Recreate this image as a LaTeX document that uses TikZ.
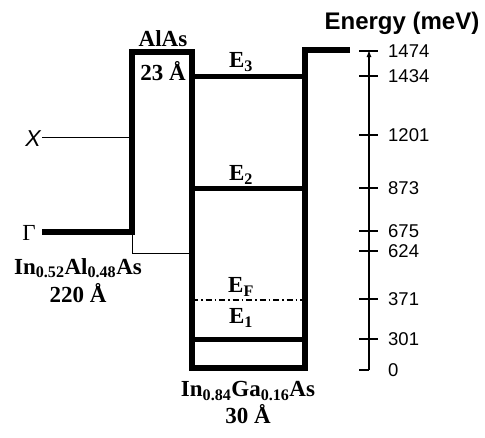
\documentclass[tikz,border=0pt]{standalone}
\usepackage{fontspec}
\setmainfont{Liberation Serif}
\setsansfont{Liberation Sans}
\usetikzlibrary{arrows.meta}
\newcommand{\lbl}{\fontsize{23}{25}\selectfont\bfseries}
\newcommand{\axnum}{\fontsize{18.5}{21}\selectfont\sffamily}

\begin{document}
\begin{tikzpicture}[
      x = 1pt, y = -1pt,
      band/.style={line width = 5.5pt, line join = miter, line cap = butt},
      level/.style={line width = 5pt},
      thin edge/.style={line width = 0.9pt},
      fermi/.style={line width = 1.1pt, dash pattern = on 6pt off 3pt on 1.5pt off 3pt},
      axis/.style={line width = 1.2pt, -{Latex[length = 7pt, width = 5pt]}},
      tick/.style={line width = 1.1pt},
      mat/.style={align = center, inner sep = 0pt, font = \lbl},
    ]
    \useasboundingbox (0, 0) rectangle (485, 437);

    % band edges: Gamma valley, AlAs barrier, InGaAs well
    \coordinate (gam) at (42, 232);
    \coordinate (bl) at (132, 232);
    \coordinate (btl) at (132, 52);
    \coordinate (btr) at (192, 52);
    \coordinate (wbl) at (192, 368);
    \coordinate (wbr) at (305, 368);
    \coordinate (wtr) at (305, 50);
    \coordinate (vac) at (350, 50);
    \draw[band] (gam) -- (bl) -- (btl) -- (btr) -- (wbl) -- (wbr) -- (wtr) -- (vac);

    % X valley and barrier step
    \coordinate (xv) at (42, 137);
    \coordinate (xb) at (132, 137);
    \coordinate (st) at (132, 253);
    \coordinate (sw) at (192, 253);
    \draw[thin edge] (xv) -- (xb);
    \draw[thin edge] (bl) -- (st) -- (sw);

    % subband levels
    \draw[level] (192, 76) -- (305, 76);
    \draw[level] (192, 188) -- (305, 188);
    \draw[level] (192, 339) -- (305, 339);
    \draw[fermi] (192, 300) -- (305, 300);

    \node[mat] (e3) at (241, 62) {E\textsubscript{3}};
    \node[mat] (e2) at (241, 175) {E\textsubscript{2}};
    \node[mat] (ef) at (241, 287) {E\textsubscript{F}};
    \node[mat] (e1) at (241, 318) {E\textsubscript{1}};

    \node[mat] (alas) at (163, 39) {AlAs};
    \node[mat] (alasw) at (163, 71) {23 Å};
    \node[mat] (inal) at (78, 268) {In\textsubscript{0.52}Al\textsubscript{0.48}As};
    \node[mat] (inalw) at (78, 293) {220 Å};
    \node[mat] (inga) at (248, 391) {In\textsubscript{0.84}Ga\textsubscript{0.16}As};
    \node[mat] (ingaw) at (248, 414) {30 Å};

    \node[font = \fontsize{23}{25}\selectfont] (gl) at (29, 233) {Γ};
    \node[font = \fontsize{23}{25}\selectfont\sffamily\itshape] (xl) at (33, 139) {X};

    % energy axis
    \coordinate (a0) at (369, 370);
    \coordinate (a1) at (369, 50);
    \draw[axis] (a0) -- (a1);
    \node[font = \fontsize{24}{26}\selectfont\sffamily\bfseries] (title) at (402, 23) {Energy (meV)};
    \foreach \yy/\val in {51/1474, 76/1434, 135/1201, 188/873, 231/675, 251/624, 299/371, 339/301} {
      \draw[tick] (359, \yy) -- (378, \yy);
      \node[anchor = west, inner sep = 0pt, font = \axnum] at (388, \yy) {\val};
    }
    \draw[tick] (359, 370) -- (369, 370);
    \node[anchor = west, inner sep = 0pt, font = \axnum] (zero) at (388, 370) {0};
  \end{tikzpicture}
\end{document}
